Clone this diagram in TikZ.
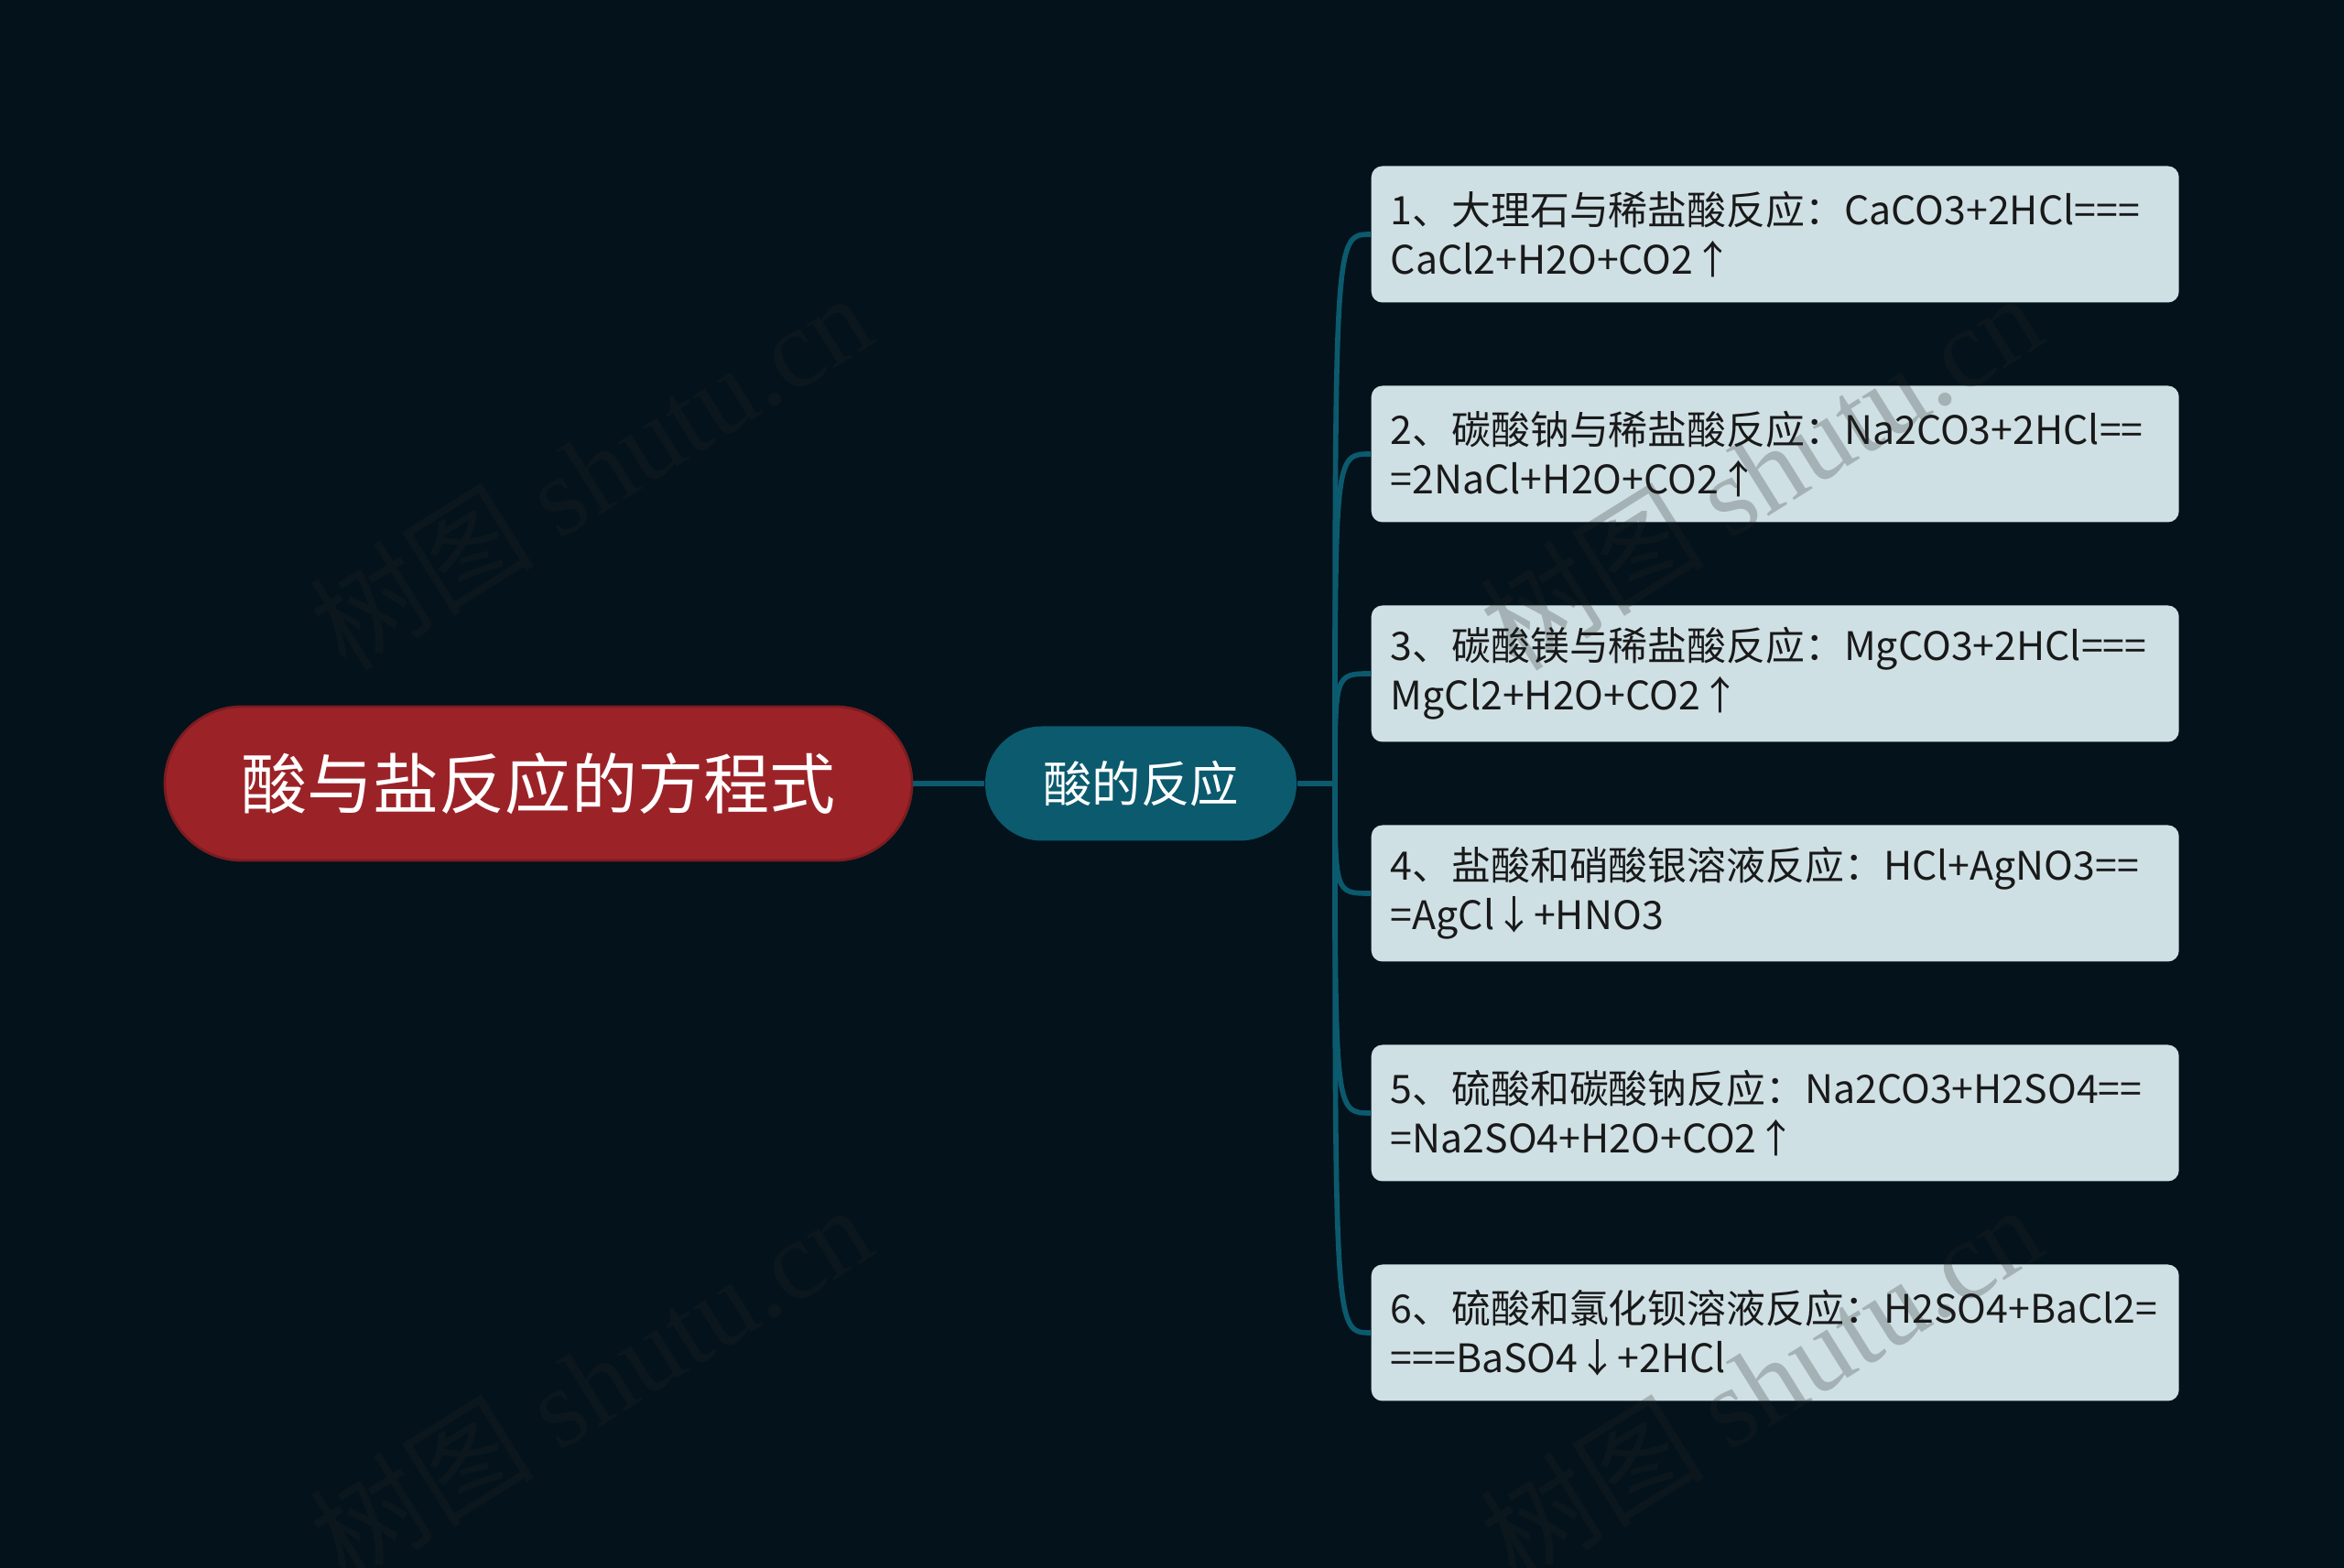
\documentclass[tikz,border=0pt]{standalone}
\usepackage{fontspec}
\setmainfont{Noto Sans CJK SC}
\newfontfamily\wmfont{Liberation Serif}
\definecolor{bgcol}{HTML}{03121B}
\definecolor{rootred}{HTML}{9B2328}
\definecolor{midteal}{HTML}{0B5A6E}
\definecolor{leafblue}{HTML}{CFE0E5}
\tikzset{
  rootbox/.style={fill=rootred, draw=rootred!80!black, line width=0.8pt, rounded corners=0.84cm,
    minimum width=8.16cm, minimum height=1.68cm, text=white, font=\fontsize{20.5}{24}\selectfont},
  midbox/.style={fill=midteal, rounded corners=0.62cm, minimum width=3.4cm, minimum height=1.25cm,
    text=white, font=\fontsize{15.2}{18}\selectfont},
  leafbox/.style={fill=leafblue, rounded corners=0.12cm, text width=8.4cm, inner xsep=0.21cm,
    minimum height=1.49cm, align=left, anchor=west, text=black!90, font=\fontsize{12.2}{15.4}\selectfont},
  link/.style={draw=midteal, line width=1.6pt},
  wmark/.style={rotate=32, text=gray!30!black, opacity=0.25, font=\fontsize{35}{40}\selectfont}
}
\begin{document}
\begin{tikzpicture}
    \fill[bgcol] (0,0) rectangle (25.6,-17.13);
    \useasboundingbox (0,0) rectangle (25.6,-17.13);
    \node[rootbox] (root) at (5.88,-8.56) {酸与盐反应的方程式};
    \node[midbox] (mid) at (12.46,-8.56) {酸的反应};
    \coordinate (spine) at (14.58,-8.56);
    \foreach \i/\txt in {
        1/{1、大理石与稀盐酸反应：CaCO3+2HCl===\\CaCl2+H2O+CO2↑},
        2/{2、碳酸钠与稀盐酸反应：Na2CO3+2HCl==\\=2NaCl+H2O+CO2↑},
        3/{3、碳酸镁与稀盐酸反应：MgCO3+2HCl===\\MgCl2+H2O+CO2↑},
        4/{4、盐酸和硝酸银溶液反应：HCl+AgNO3==\\=AgCl↓+HNO3},
        5/{5、硫酸和碳酸钠反应：Na2CO3+H2SO4==\\=Na2SO4+H2O+CO2↑},
        6/{6、硫酸和氯化钡溶液反应：H2SO4+BaCl2=\\===BaSO4↓+2HCl}} {
        \node[leafbox] (r\i) at (14.97,{-2.56-2.4*(\i-1)}) {\txt};
        \draw[link] (spine) .. controls (spine |- r\i.west) .. (r\i.west);
    }
    \draw[link] (root) -- (mid);
    \draw[link] (mid) -- (spine);
    \foreach \x/\y [count=\k] in {6.45/-5.14, 19.23/-5.14, 6.45/-15.1, 19.23/-15.1} {
        \node[wmark] (wm\k) at (\x,\y) {树图 {\wmfont shutu.cn}};
    }
\end{tikzpicture}
\end{document}
